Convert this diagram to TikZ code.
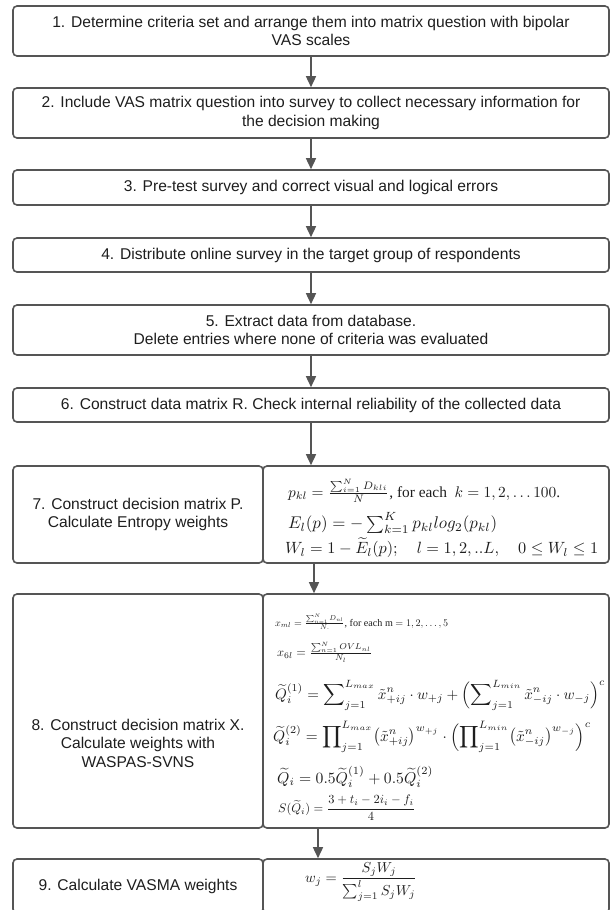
\documentclass[tikz,border=0pt]{standalone}
\usepackage{fontspec}
\setmainfont{Liberation Serif}
\setsansfont{Liberation Sans}
\usepackage{amsmath}
\usepackage{graphicx}
\usetikzlibrary{arrows.meta}
\definecolor{edge}{HTML}{555555}
\definecolor{ink}{HTML}{1E1E1E}
\tikzset{
 box/.style={draw=edge, line width=1.6pt, rounded corners=4pt, fill=white, inner sep=0pt,
   font=\sffamily\fontsize{15.6}{18.5}\selectfont, align=center, text=ink},
 lbl/.style={inner sep=0pt, font=\sffamily\fontsize{15.6}{18.5}\selectfont, align=center, text=ink},
 arr/.style={draw=edge, line width=1.5pt, -{Triangle[width=10pt,length=11pt]}},
 fml/.style={anchor=west, inner sep=0pt, text=ink},
}
\begin{document}
\begin{tikzpicture}[x=1pt,y=-1pt]
\useasboundingbox (0,0) rectangle (611,910);
\clip (0,0) rectangle (611,910);
% full-width boxes
\node[box, minimum width=596pt, minimum height=50pt] (b1) at (311,31)
  {1. Determine criteria set and arrange them into matrix question with bipolar\\VAS scales};
\node[box, minimum width=596pt, minimum height=50pt] (b2) at (311,113)
  {2. Include VAS matrix question into survey to collect necessary information for\\the decision making};
\node[box, minimum width=596pt, minimum height=35pt] (b3) at (311,187.5)
  {3. Pre-test survey and correct visual and logical errors};
\node[box, minimum width=596pt, minimum height=34pt] (b4) at (311,255)
  {4. Distribute online survey in the target group of respondents};
\node[box, minimum width=596pt, minimum height=50pt] (b5) at (311,330)
  {5. Extract data from database.\\Delete entries where none of criteria was evaluated};
\node[box, minimum width=596pt, minimum height=34pt] (b6) at (311,405)
  {6. Construct data matrix R. Check internal reliability of the collected data};
% step 7
\node[box, minimum width=250pt, minimum height=97pt] (b7l) at (138,514.5)
  {7. Construct decision matrix P.\\Calculate Entropy weights};
\node[box, minimum width=346pt, minimum height=97pt] (b7r) at (436,514.5) {};
\node[fml] (f71) at (288,491) {\resizebox{272pt}{!}{$p_{kl}=\frac{\sum_{i=1}^{N}D_{kli}}{N}$, for each\ \ $k=1,2,\ldots 100$.}};
\node[fml] (f72) at (288,523) {\resizebox{209pt}{!}{$E_l(p)=-\sum_{k=1}^{K}p_{kl}log_2(p_{kl})$}};
\node[fml] (f73) at (285,548) {\resizebox{313pt}{!}{$W_l=1-\widetilde{E}_l(p);\quad l=1,2,..L,\quad 0\le W_l\le 1$}};
% step 8
\node[box, minimum width=250pt, minimum height=234pt] (b8l) at (138,711) {};
\node[lbl] (b8t) at (138,743) {8. Construct decision matrix X.\\Calculate weights with\\WASPAS-SVNS};
\node[box, minimum width=346pt, minimum height=234pt] (b8r) at (436,711) {};
\node[fml] (f81) at (275,622) {\resizebox{173pt}{!}{$x_{ml}=\frac{\sum_{n=1}^{N}D_{nl}}{N.}$, for each m $=1,2,\ldots,5$}};
\node[fml] (f82) at (277,652) {\resizebox{95pt}{!}{$x_{6l}=\frac{\sum_{n=1}^{N}OVL_{nl}}{N_l}$}};
\node[fml] (f83) at (275,695) {\resizebox{330pt}{!}{$\displaystyle\widetilde{Q}_i^{(1)}=\sum\nolimits_{j=1}^{L_{max}}\tilde{x}^n_{+ij}\cdot w_{+j}+\Bigl(\sum\nolimits_{j=1}^{L_{min}}\tilde{x}^n_{-ij}\cdot w_{-j}\Bigr)^{c}$}};
\node[fml] (f84) at (273,737) {\resizebox{318pt}{!}{$\displaystyle\widetilde{Q}_i^{(2)}=\prod\nolimits_{j=1}^{L_{max}}\bigl(\tilde{x}^n_{+ij}\bigr)^{w_{+j}}\cdot\Bigl(\prod\nolimits_{j=1}^{L_{min}}\bigl(\tilde{x}^n_{-ij}\bigr)^{w_{-j}}\Bigr)^{c}$}};
\node[fml] (f85) at (277,777) {\resizebox{156pt}{!}{$\widetilde{Q}_i=0.5\widetilde{Q}_i^{(1)}+0.5\widetilde{Q}_i^{(2)}$}};
\node[fml] (f86) at (278,808) {\resizebox{137pt}{!}{$S(\widetilde{Q}_i)=\dfrac{3+t_i-2i_i-f_i}{4}$}};
% step 9
\node[box, minimum width=250pt, minimum height=54pt] (b9l) at (138,886)
  {9. Calculate VASMA weights};
\node[box, minimum width=346pt, minimum height=54pt] (b9r) at (436,886) {};
\node[fml] (f9) at (305,882) {\resizebox{112pt}{!}{$w_j=\dfrac{S_jW_j}{\sum\nolimits_{j=1}^{l}S_jW_j}$}};
% connectors
\coordinate (x78) at (314,0);
\coordinate (x89) at (318,0);
\draw[arr] (b1) -- (b2);
\draw[arr] (b2) -- (b3);
\draw[arr] (b3) -- (b4);
\draw[arr] (b4) -- (b5);
\draw[arr] (b5) -- (b6);
\draw[arr] (b6.south) -- (b6.south |- b7r.north);
\draw[arr] (b7r.south -| x78) -- (b8r.north -| x78);
\draw[arr] (b8r.south -| x89) -- (b9r.north -| x89);
\end{tikzpicture}
\end{document}
